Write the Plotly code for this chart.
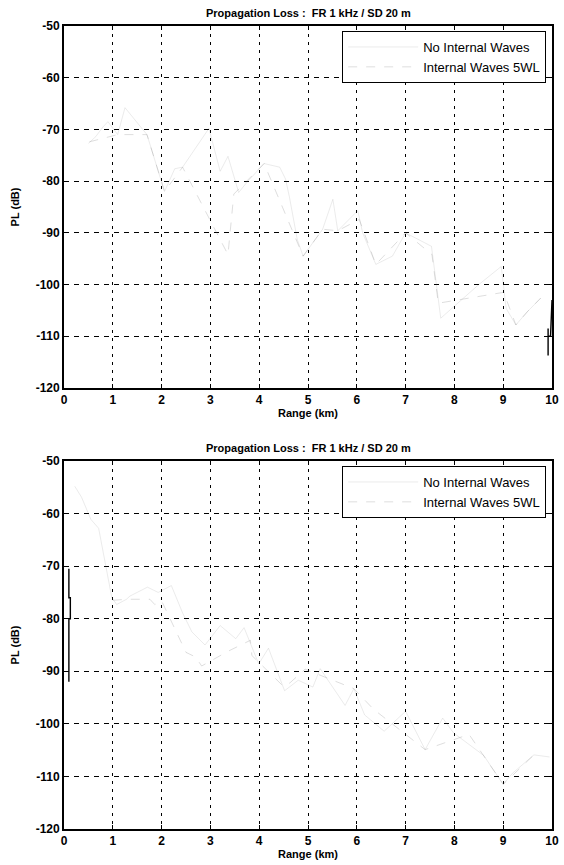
import plotly.graph_objects as go

# ---------------- data ----------------
title_text = "Propagation Loss :  FR 1 kHz / SD 20 m"
series_names = ["No Internal Waves", "Internal Waves 5WL"]
x_ticks = [0, 1, 2, 3, 4, 5, 6, 7, 8, 9, 10]
y_ticks = [-50, -60, -70, -80, -90, -100, -110, -120]

# top panel
top_a_x = [0.5, 0.65, 0.8, 0.9, 1.1, 1.25, 1.7, 2.06, 2.27, 2.43, 2.97, 3.2, 3.36, 3.58, 3.75,
           4.1, 4.42, 4.54, 4.62, 4.78, 4.9, 5.3, 5.51, 5.61, 6.02, 6.12, 6.39, 6.73, 7.0, 7.53,
           7.72, 8.5, 8.96, 9.06, 9.26, 9.5, 9.77]
top_a_y = [-72.7, -71.4, -69.5, -68.5, -71.0, -65.8, -71.0, -82.0, -77.6, -77.3, -69.8, -78.1, -75.2,
           -82.2, -80.2, -76.6, -77.3, -79.6, -83.1, -91.3, -94.5, -89.3, -83.5, -89.6, -85.7, -90.0,
           -96.1, -94.5, -90.0, -92.6, -106.5, -100.0, -96.5, -104.6, -107.8, -105.2, -102.6]
top_b_x = [0.52, 1.1, 1.7, 2.06, 2.43, 3.36, 3.48, 4.1, 4.9, 5.3, 5.61, 6.05, 6.39, 7.0, 7.54,
           7.67, 9.01, 9.26, 9.5, 9.77]
top_b_y = [-72.4, -71.0, -71.0, -82.0, -77.3, -94.2, -82.5, -76.6, -94.5, -89.3, -89.6, -87.4,
           -96.1, -90.0, -94.2, -103.6, -101.5, -107.8, -105.2, -102.6]
top_tail_x = [9.92, 9.92, 9.92, 9.97, 10.0, 10.0]
top_tail_y = [-108.5, -113.7, -110.0, -110.0, -103.0, -106.5]

# bottom panel
bot_a_x = [0.22, 0.3, 0.36, 0.55, 0.71, 0.98, 1.08, 1.28, 1.35, 1.71, 1.93, 2.2, 2.43, 2.62, 2.89,
           3.2, 3.52, 3.69, 3.99, 4.19, 4.52, 4.8, 5.1, 5.25, 5.76, 5.94, 6.16, 6.56, 7.0, 7.4,
           7.76, 7.98, 8.6, 9.0, 9.19, 9.63, 9.95]
bot_a_y = [-54.8, -56.0, -56.9, -61.1, -62.8, -76.0, -77.3, -76.3, -75.7, -74.0, -75.0, -73.7,
           -78.9, -82.5, -85.0, -81.3, -83.8, -81.7, -88.6, -85.6, -93.7, -91.7, -93.0, -89.5,
           -96.5, -93.3, -98.3, -101.4, -97.6, -104.9, -98.9, -101.7, -106.0, -111.5, -109.4,
           -105.9, -106.3]
bot_b_x = [1.0, 1.28, 1.76, 1.86, 2.0, 2.5, 2.7, 2.82, 3.36, 3.82, 3.85, 4.5, 4.63, 4.94, 5.94,
           6.34, 7.4, 8.3, 9.0, 9.63]
bot_b_y = [-76.5, -76.3, -76.3, -77.3, -76.6, -86.4, -87.3, -89.0, -86.2, -84.1, -87.0, -92.9,
           -92.2, -89.6, -93.3, -97.2, -104.9, -102.0, -111.5, -105.9]
bot_head_x = [0.1, 0.1, 0.13, 0.13, 0.1, 0.1]
bot_head_y = [-70.5, -76.0, -76.0, -80.0, -80.0, -92.0]

# ---------------- figure ----------------
W, H = 564, 865
TOP_T, TOP_B = 26, 388      # pixel rows of the upper axes box
BOT_T, BOT_B = 461, 829     # pixel rows of the lower axes box
ML, MR = 64, 5
MT, MB = TOP_T, H - BOT_B
plot_h = H - MT - MB
top_dom = [(BOT_B - TOP_B) / plot_h, 1.0]
bot_dom = [0.0, (BOT_B - BOT_T) / plot_h]

FONT = "Liberation Sans, Arial, sans-serif"
faint_a = "rgba(90,90,90,0.12)"
faint_b = "rgba(90,90,90,0.2)"

fig = go.Figure()

def add_panel(xa, ya, legend, ax, ay, bx, by, hx, hy):
    fig.add_trace(go.Scatter(x=ax, y=ay, mode="lines", name=series_names[0],
                             line=dict(color=faint_a, width=1), xaxis=xa, yaxis=ya,
                             legend=legend, legendgroup=legend + "a"))
    fig.add_trace(go.Scatter(x=bx, y=by, mode="lines", name=series_names[1],
                             line=dict(color=faint_b, width=1, dash="dash"),
                             xaxis=xa, yaxis=ya, legend=legend, legendgroup=legend + "b"))
    fig.add_trace(go.Scatter(x=hx, y=hy, mode="lines", name=series_names[0], showlegend=False,
                             line=dict(color="black", width=1.4), xaxis=xa, yaxis=ya,
                             legend=legend, legendgroup=legend + "a"))

add_panel("x", "y", "legend", top_a_x, top_a_y, top_b_x, top_b_y, top_tail_x, top_tail_y)
add_panel("x2", "y2", "legend2", bot_a_x, bot_a_y, bot_b_x, bot_b_y, bot_head_x, bot_head_y)

xcommon = dict(range=[0, 10], tickvals=x_ticks, ticktext=[str(v) for v in x_ticks],
               showgrid=True, gridcolor="black", gridwidth=1.2, griddash="3px,5px",
               showline=True, linecolor="black", linewidth=1.5, mirror="ticks",
               ticks="inside", ticklen=4, tickcolor="black", zeroline=False,
               ticklabeloverflow="allow",
               tickfont=dict(family=FONT, size=12, color="black", weight="bold"),
               title=dict(text="Range (km)", standoff=3,
                          font=dict(family=FONT, size=11, color="black", weight="bold")))
ycommon = dict(range=[-120, -50], tickvals=y_ticks, ticktext=[str(v) for v in y_ticks],
               showgrid=True, gridcolor="black", gridwidth=1, griddash="5px,5px",
               showline=True, linecolor="black", linewidth=1.8, mirror="ticks",
               ticks="inside", ticklen=4, tickcolor="black", zeroline=False,
               tickfont=dict(family=FONT, size=12, color="black", weight="bold"),
               title=dict(text="PL (dB)", standoff=14,
                          font=dict(family=FONT, size=11, color="black", weight="bold")))

legcommon = dict(x=0.988, xanchor="right", yanchor="top", bgcolor="white",
                 bordercolor="black", borderwidth=1, itemwidth=70,
                 font=dict(family=FONT, size=13, color="black"), tracegroupgap=0)

def ypx(py):
    return (BOT_B - py) / plot_h

fig.update_layout(
    width=W, height=H, margin=dict(l=ML, r=MR, t=MT, b=MB),
    paper_bgcolor="white", plot_bgcolor="white",
    xaxis=dict(**xcommon, anchor="y"),
    yaxis=dict(**ycommon, domain=top_dom, anchor="x"),
    xaxis2=dict(**xcommon, anchor="y2"),
    yaxis2=dict(**ycommon, domain=bot_dom, anchor="x2"),
    legend=dict(**legcommon, y=ypx(TOP_T + 5)),
    legend2=dict(**legcommon, y=ypx(BOT_T + 5)),
    annotations=[
        dict(text=title_text, xref="paper", yref="paper", x=0.5, y=top_dom[1],
             yanchor="bottom", yshift=5, showarrow=False,
             font=dict(family=FONT, size=11, color="black", weight="bold")),
        dict(text=title_text, xref="paper", yref="paper", x=0.5, y=bot_dom[1],
             yanchor="bottom", yshift=5, showarrow=False,
             font=dict(family=FONT, size=11, color="black", weight="bold")),
    ],
    showlegend=True,
)

fig.write_html("out.html", config={"displayModeBar": False},
               post_script="document.body.style.margin='0';document.body.style.padding='0';")
